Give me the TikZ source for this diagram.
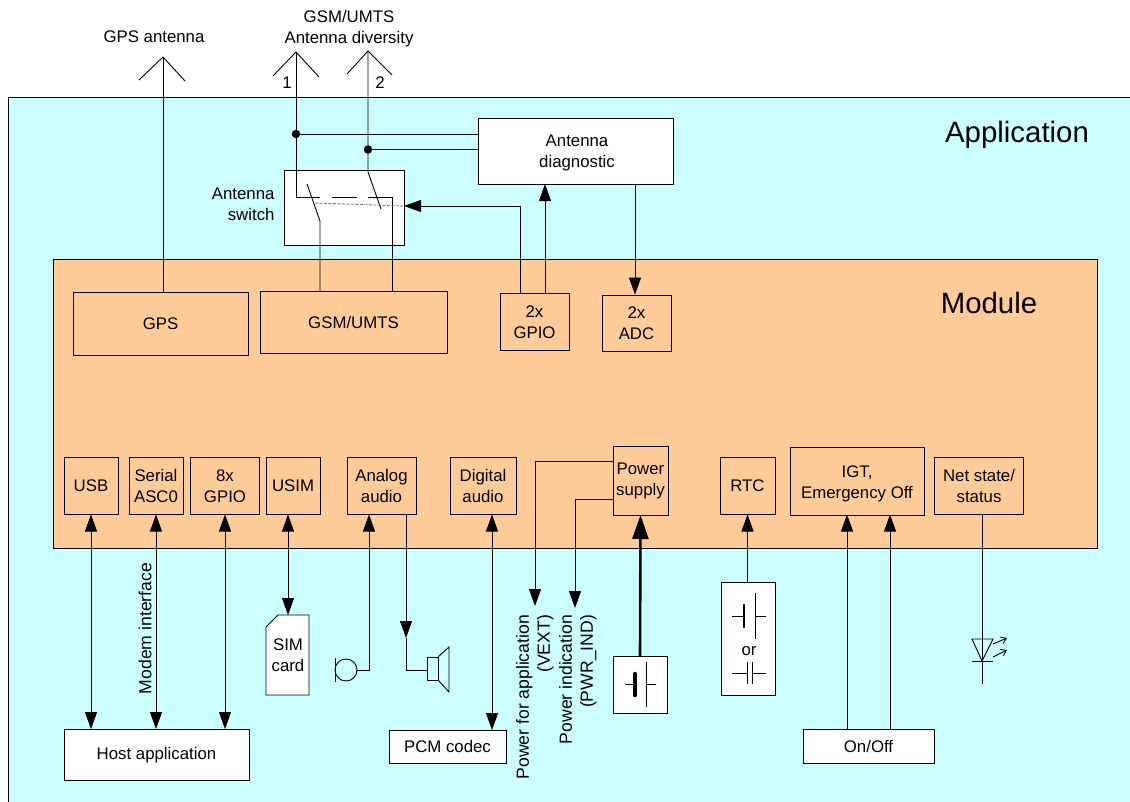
\documentclass[tikz,border=0pt]{standalone}
\usepackage{fontspec}
\setmainfont{Liberation Sans}
\usepackage{xcolor}
\usepackage{tikz}
\usetikzlibrary{calc, arrows.meta}
\definecolor{appCyan}{RGB}{204, 255, 255}
\definecolor{modOrange}{RGB}{255, 204, 153}
\definecolor{swGray}{RGB}{120, 120, 120}
\tikzset{
    base/.style={
        font=\fontsize{16.8}{21}\selectfont,
        align=center,
        text=black,
        inner sep=0pt,
        outer sep=0pt
    },
    area/.style={
        rectangle,
        draw=black,
        line width=0.9pt
    },
    block/.style={
        base,
        rectangle,
        draw=black,
        line width=0.9pt,
        fill=white
    },
    modblock/.style={
        block,
        fill=modOrange
    },
    label/.style={
        base
    },
    sidelabel/.style={
        base,
        font=\fontsize{17.6}{21}\selectfont,
        rotate=90
    },
    biglabel/.style={
        base,
        font=\fontsize{29.4}{34}\selectfont
    },
    dot/.style={
        circle,
        fill=black,
        minimum size=8.5pt,
        inner sep=0pt
    },
    wire/.style={
        line width=0.9pt,
        color=black
    },
    flow/.style={
        wire,
        -{Triangle[length=17pt,width=12pt]}
    },
    backflow/.style={
        wire,
        {Triangle[length=17pt,width=12pt]}-
    },
    bothflow/.style={
        wire,
        {Triangle[length=17pt,width=12pt]}-{Triangle[length=17pt,width=12pt]}
    },
    plate/.style={
        line width=2.6pt,
        line cap=round,
        color=black
    }
}
\begin{document}
\begin{tikzpicture}[x=1pt,y=-1pt]
  \useasboundingbox (0,0) rectangle (1130,801);

  % Application and module areas
  \draw[area, fill=appCyan] (8,97) rectangle (1140,811);
  \draw[area, fill=modOrange] (53,259.5) rectangle (1097,548);
  \node[biglabel] (applabel) at (1017,135) {Application};
  \node[biglabel] (modlabel) at (989,303) {Module};

  % Top blocks
  \node[block, minimum width=195pt, minimum height=66pt] (diag) at (575.5,151) {};
  \node[label] (diaglabel) at (577,153) {Antenna\\diagnostic};
  \node[block, minimum width=120pt, minimum height=75pt] (swbox) at (344,207.5) {};
  \node[label, align=right, anchor=east] (swlabel) at (274.5,204.5) {Antenna\\switch};
  \node[modblock, minimum width=175pt, minimum height=63pt] (gps) at (160.5,323.5) {GPS};
  \node[modblock, minimum width=187pt, minimum height=62pt] (gsm) at (353.5,322) {GSM/UMTS};
  \node[modblock, minimum width=69pt, minimum height=57pt] (gpioa) at (534.5,322) {2x\\GPIO};
  \node[modblock, minimum width=69pt, minimum height=56pt] (adc) at (636.5,323) {2x\\ADC};

  % Lower blocks
  \node[modblock, minimum width=54pt, minimum height=57pt] (usb) at (91,486) {USB};
  \node[modblock, minimum width=54pt, minimum height=57pt] (serial) at (156,486) {Serial\\ASC0};
  \node[modblock, minimum width=69pt, minimum height=57pt] (gpiob) at (225,486) {8x\\GPIO};
  \node[modblock, minimum width=54pt, minimum height=57pt] (usim) at (293,486) {USIM};
  \node[modblock, minimum width=69pt, minimum height=57pt] (analog) at (381.5,486) {Analog\\audio};
  \node[modblock, minimum width=66pt, minimum height=57pt] (digital) at (483,486) {Digital\\audio};
  \node[modblock, minimum width=55pt, minimum height=69pt] (power) at (640.5,480.5) {Power\\supply};
  \node[modblock, minimum width=55pt, minimum height=57pt] (rtc) at (747.5,486) {RTC};
  \node[modblock, minimum width=134pt, minimum height=68pt] (igt) at (857,481) {};
  \node[label] (igtlabel) at (857,484) {IGT,\\Emergency Off};
  \node[modblock, minimum width=89pt, minimum height=57pt] (net) at (979,486) {Net state/\\status};

  % Outside blocks
  \node[block, minimum width=185pt, minimum height=51pt] (host) at (156.5,754.5) {};
  \node[label] (hostlabel) at (156.5,755.5) {Host application};
  \node[block, minimum width=117pt, minimum height=33pt] (pcm) at (447.5,746.5) {PCM codec};
  \node[block, minimum width=131pt, minimum height=34pt] (onoff) at (868.5,746) {On/Off};
  \coordinate (simtop) at (288,615);
  \draw[wire, fill=white] (266,627) -- (278,615) -- (309,615) -- (309,695) -- (266,695) -- cycle;
  \node[label] (sim) at (288,655) {SIM\\card};
  \node[block, minimum width=54pt, minimum height=57pt] (batbox) at (640,684.5) {};
  \node[block, minimum width=54pt, minimum height=113pt] (rtcbox) at (748,638.5) {};
  \node[label] (orlabel) at (749,651) {or};

  % Antennas
  \coordinate (antgps) at (163,57);
  \coordinate (anta) at (296,52);
  \coordinate (antb) at (368,51);
  \draw[wire] (139,80) -- (antgps) -- (185,81);
  \draw[wire] (273,76) -- (anta) -- (319,77);
  \draw[wire] (347,74) -- (antb) -- (392,75);
  \node[label] (gpslabel) at (154,37) {GPS antenna};
  \node[label] (gsmlabel) at (349,28.5) {GSM/UMTS\\Antenna diversity};
  \node[label] (onelabel) at (287,83) {1};
  \node[label] (twolabel) at (380,83) {2};
  \draw[wire] (antgps) -- (antgps |- gps.north);

  % Switch
  \coordinate (swa) at (296,197);
  \coordinate (swb) at (320,197);
  \coordinate (swc) at (392,197);
  \coordinate (swd) at (320,221);
  \coordinate (swe) at (368,172);
  \coordinate (swctl) at (404,206);
  \node[dot] (dota) at (296,134) {};
  \node[dot] (dotb) at (368,149.5) {};
  \draw[wire] (anta) -- (swa) -- (swb);
  \draw[wire, dash pattern=on 25pt off 11pt] (332,197) -- (swc);
  \draw[wire] (swc) -- (swc |- gsm.north);
  \draw[wire] (antb) -- (swe) -- (381,209);
  \draw[wire] (307,184) -- (swd) -- (swd |- gsm.north);
  \draw[wire] (dota) -- (dota -| diag.west);
  \draw[wire] (dotb) -- (dotb -| diag.west);
  \draw[wire, swGray, dash pattern=on 3pt off 1.5pt] (315,203) -- (swctl);
  \draw[flow] ([xshift=-14.5pt]gpioa.north) |- (swctl);
  \draw[flow] ([xshift=10.5pt]gpioa.north) -- ([xshift=10.5pt]gpioa.north |- diag.south);
  \draw[flow] (635,184) -- (635,294.5);

  % Host side
  \draw[bothflow] (usb.south) -- (usb.south |- host.north);
  \draw[bothflow] (serial.south) -- (serial.south |- host.north);
  \draw[bothflow] (gpiob.south) -- (gpiob.south |- host.north);
  \draw[bothflow] ([xshift=-5pt]usim.south) -- (simtop);
  \draw[bothflow] (492,514.5) -- (492,730);
  \node[sidelabel] (modem) at (145,628.5) {Modem interface};

  % Microphone and speaker
  \node[circle, draw=black, line width=0.9pt, minimum size=22pt, inner sep=0pt] (mic) at (346,670) {};
  \node[rectangle, draw=black, line width=0.9pt, minimum width=11pt, minimum height=23pt, inner sep=0pt] (spk) at (432.5,668.5) {};
  \draw[wire] (335,658) -- (335,682);
  \draw[wire] (spk.north east) -- (449,647) -- (449,692) -- (spk.south east);
  \draw[backflow] (369,514.5) -- (369,670) -- (mic.east);
  \draw[flow] (406,514.5) -- (406,638);
  \draw[wire] (406,638) -- (406,670) -- (spk.west |- mic);

  % Power
  \draw[flow] ([yshift=19.5pt]power.west) -| (535,606);
  \draw[flow] ([yshift=-18.5pt]power.west) -| (575,608);
  \node[sidelabel, align=right, anchor=north east] (vext) at (516,615) {Power for application\\(VEXT)};
  \node[sidelabel, align=right, anchor=north east] (pwrind) at (559,615) {Power indication\\(PWR\_IND)};
  \draw[line width=2.6pt, -{Triangle[length=24pt,width=16pt]}] (batbox.north) -- (power.south);

  % Batteries
  \draw[plate, line width=4.5pt] (635,674) -- (635,695);
  \draw[wire] (625,684) -- (635,684);
  \draw[wire] (646,662) -- (646,707);
  \draw[wire] (646,684) -- (656,684);
  \draw[plate] (744,605) -- (744,627);
  \draw[wire] (732,616) -- (744,616);
  \draw[wire] (755,593) -- (755,639);
  \draw[wire] (755,616) -- (766,616);
  \draw[wire] (732,673) -- (747,673);
  \draw[wire] (747,662) -- (747,684);
  \draw[wire] (752,662) -- (752,684);
  \draw[wire] (752,673) -- (766,673);
  \draw[flow] (rtcbox.north -| rtc.south) -- (rtc.south);

  % On/Off
  \draw[flow] (847,729) -- (847,514.5);
  \draw[flow] (890,729) -- (890,514.5);

  % LED
  \coordinate (led) at (982,684);
  \draw[wire] ([xshift=3pt]net.south) -- (led);
  \draw[wire] (972,639) -- (993,639) -- (982,661) -- cycle;
  \draw[wire] (972,661) -- (993,661);
  \draw[wire, -{Straight Barb[length=5pt,width=7pt]}] (993,644) -- (1007,638);
  \draw[wire, -{Straight Barb[length=5pt,width=7pt]}] (993,657) -- (1007,650);

\end{tikzpicture}
\end{document}
